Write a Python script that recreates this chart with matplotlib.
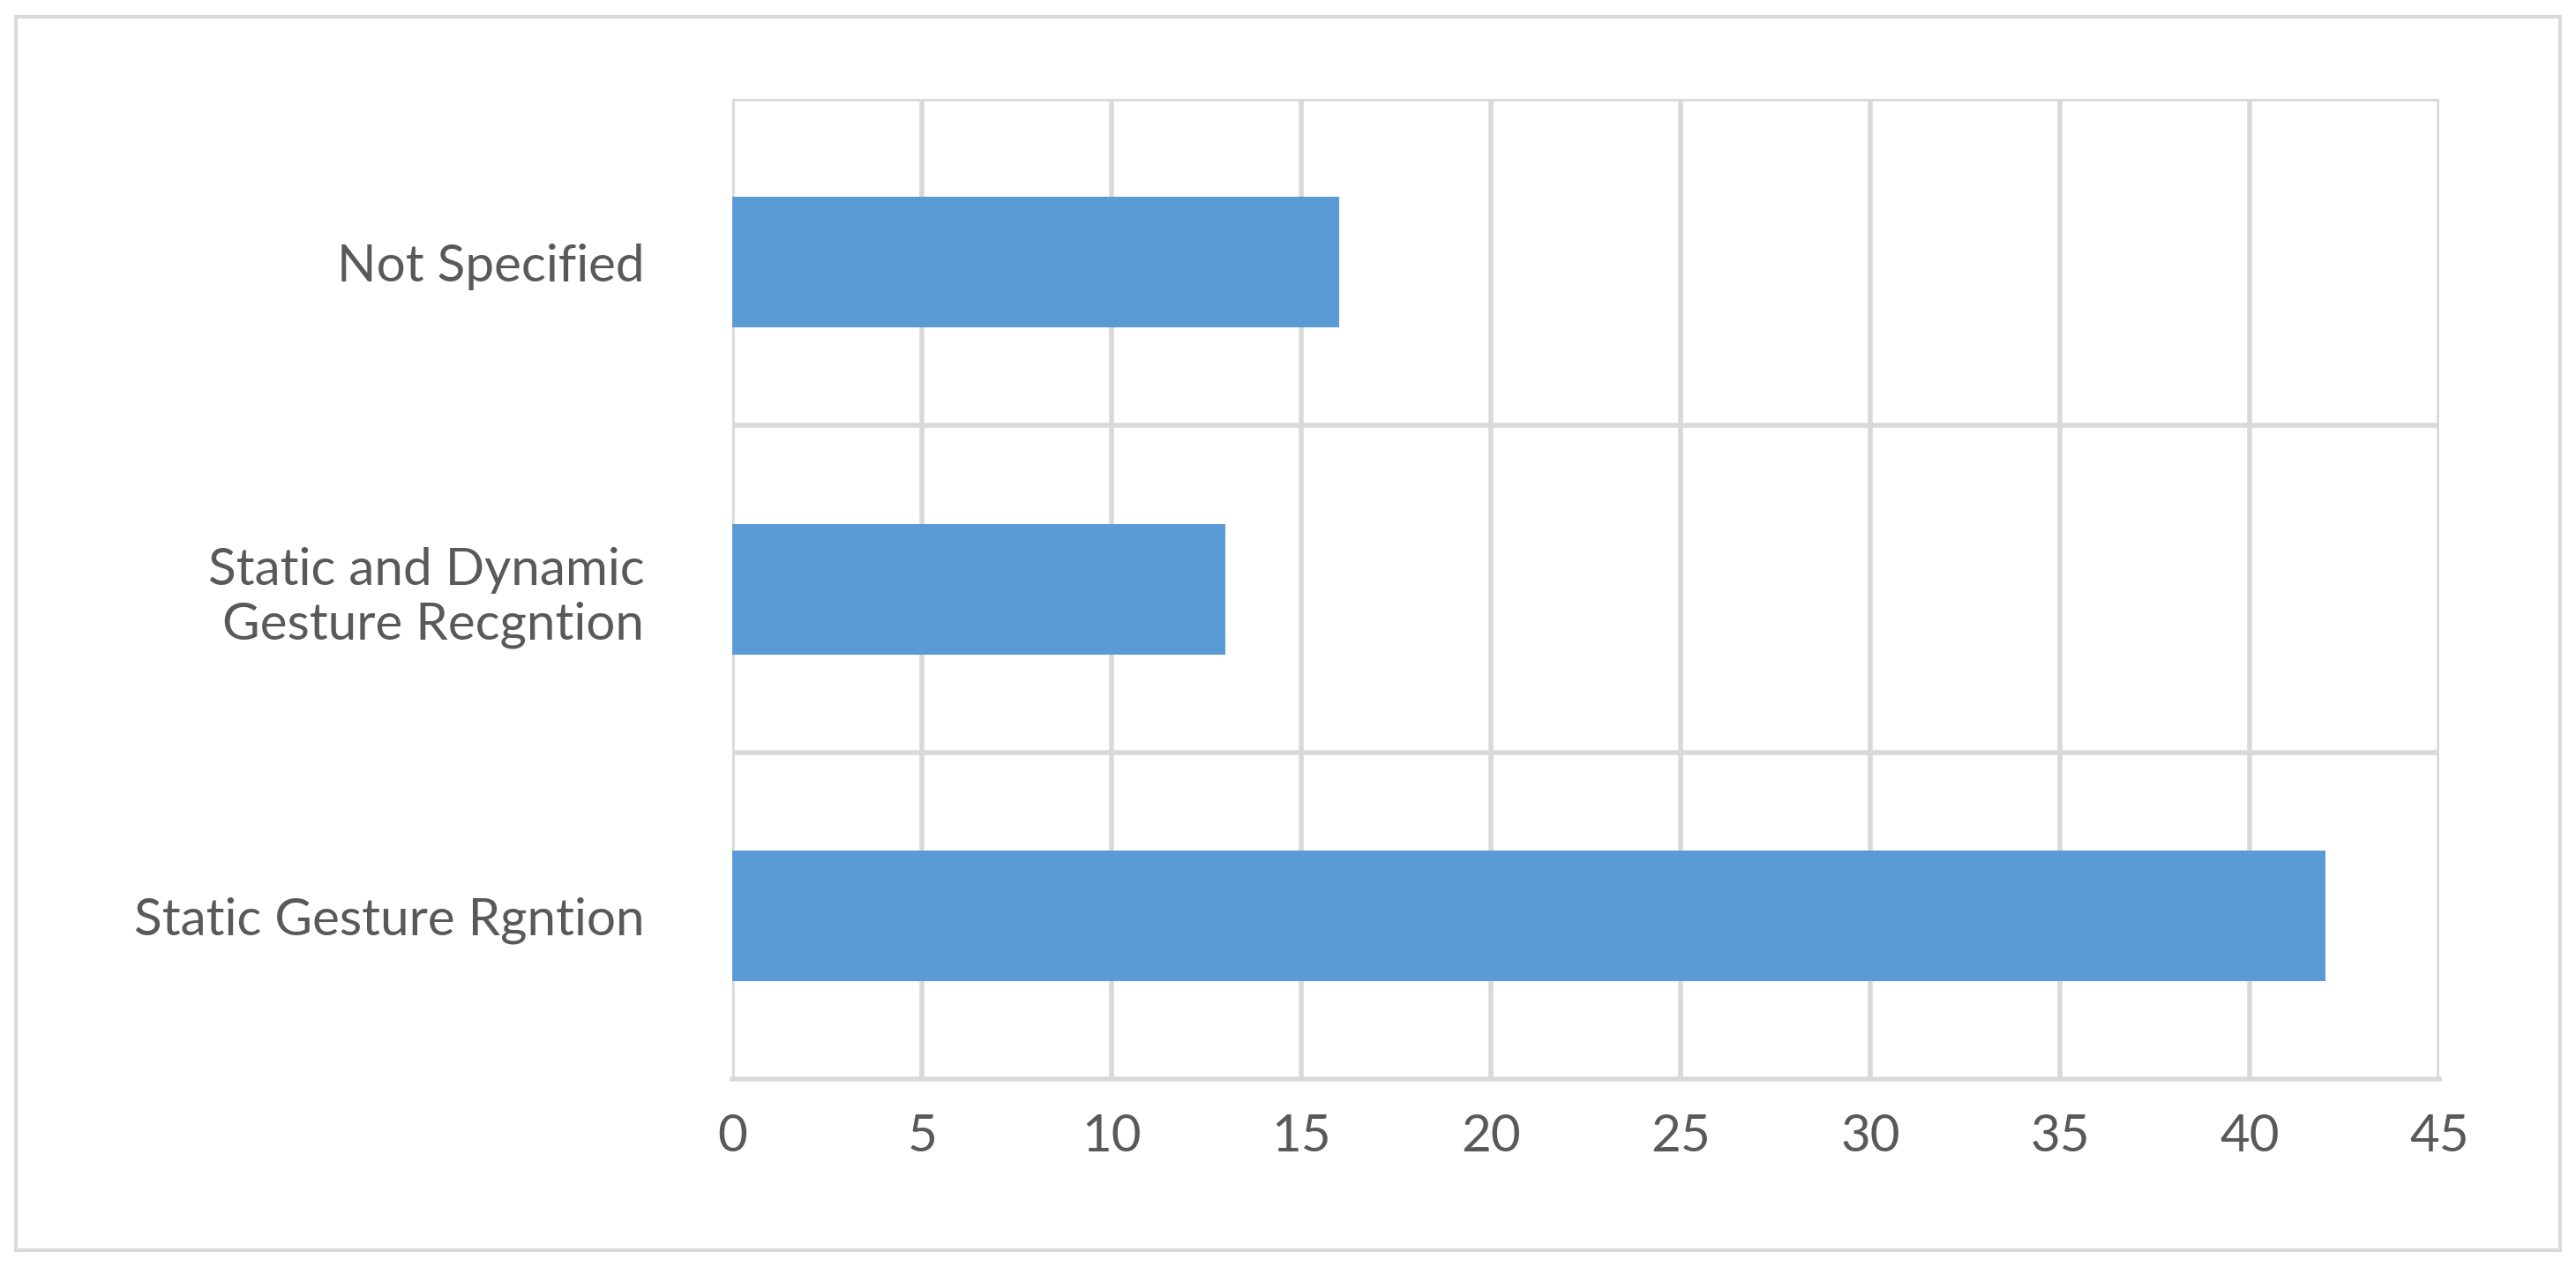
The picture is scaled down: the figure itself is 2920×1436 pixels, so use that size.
import matplotlib.pyplot as plt
from matplotlib.patches import Rectangle

categories = ['Static Gesture Rgntion', 'Static and Dynamic\nGesture Recgntion', 'Not Specified']
values = [42, 13, 16]
xticks = [0, 5, 10, 15, 20, 25, 30, 35, 40, 45]

plt.rcParams['font.family'] = ['Lato', 'DejaVu Sans']

fig = plt.figure(figsize=(14.6, 7.18), dpi=200)
ax = fig.add_axes([0.2844, 0.148, 0.6626, 0.774])

ax.barh(range(len(categories)), values, height=0.4, color='#5B9BD5', zorder=3)
ax.set_xlim(0, 45)
ax.set_ylim(-0.5, len(categories) - 0.5)
ax.set_xticks(xticks)
ax.set_yticks(range(len(categories)))
ax.set_yticklabels(categories, ha='right', multialignment='right')

grid_c = '#D9D9D9'
for x in xticks:
    ax.axvline(x, color=grid_c, lw=2, zorder=1)
for y in [0.5, 1.5, 2.5]:
    ax.axhline(y, color=grid_c, lw=2, zorder=1)
for s in ['top', 'right', 'left']:
    ax.spines[s].set_visible(False)
ax.spines['bottom'].set_color(grid_c)
ax.spines['bottom'].set_linewidth(2)
ax.tick_params(axis='both', length=0, labelsize=21, colors='#595959', pad=14)
ax.tick_params(axis='y', pad=36)

fig.patches.append(Rectangle((0.006, 0.013), 0.988, 0.974, transform=fig.transFigure,
                             fill=False, edgecolor=grid_c, lw=1.5))

fig.savefig('out.png', dpi=200)
